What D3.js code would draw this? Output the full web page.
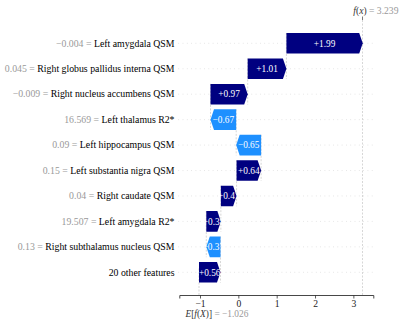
<!DOCTYPE html>
<html lang="en">
<head>
  <meta charset="UTF-8">
  <title>Waterfall</title>
  <script src='https://d3js.org/d3.v7.min.js'></script>
  <style>
    body { margin: 0; background: #fff; }
  </style>
</head>
<body>
</body>
<script>
  const width = 400, height = 325;

  // data, top row first
  const features = [
    'Left amygdala QSM', 'Right globus pallidus interna QSM', 'Right nucleus accumbens QSM',
    'Left thalamus R2*', 'Left hippocampus QSM', 'Left substantia nigra QSM',
    'Right caudate QSM', 'Left amygdala R2*', 'Right subthalamus nucleus QSM', '20 other features'
  ];
  const featureValues = ['\u22120.004', '0.045', '\u22120.009', '16.569', '0.09', '0.15', '0.04', '19.507', '0.13', null];
  const shapValues = [1.99, 1.01, 0.97, -0.67, -0.65, 0.64, 0.41, 0.38, -0.37, 0.56];
  const baseValue = -1.026;
  const fxValue = 3.239;
  const xTicks = [-1, 0, 1, 2, 3];
  const xDomain = [-1.54, 3.52];

  const posColor = '#000080', negColor = '#1e90ff';
  const serif = "'Liberation Serif', 'DejaVu Serif', serif";
  const fmt = v => (v < 0 ? '\u2212' : '') + Math.abs(v);
  const fmtBar = v => (v < 0 ? '\u2212' : '+') + Math.abs(v).toFixed(2);

  const svg = d3.select('body').append('svg')
    .attr('width', width).attr('height', height)
    .attr('font-family', serif);

  const x = d3.scaleLinear().domain(xDomain).range([179.3, 373.3]);
  const y = d3.scalePoint().domain(d3.range(features.length)).range([43.3, 272.3]);
  const step = y.step();
  const barH = step * 0.81;
  const axisY = 295, topY = 20;

  // cumulative starts (bottom row first)
  const bars = [];
  let cur = baseValue;
  for (let i = features.length - 1; i >= 0; i--) {
    bars[i] = {i: i, start: cur, end: cur + shapValues[i], v: shapValues[i]};
    cur += shapValues[i];
  }

  // horizontal dotted grid
  svg.append('g').selectAll('line').data(bars).join('line')
    .attr('x1', x.range()[0] - 1).attr('x2', x.range()[1])
    .attr('y1', d => y(d.i)).attr('y2', d => y(d.i))
    .attr('stroke', '#cccccc').attr('stroke-width', 0.6).attr('stroke-dasharray', '0.8,3.5');

  // connectors
  svg.append('g').selectAll('line').data(bars.slice(0, -1)).join('line')
    .attr('x1', d => x(d.start)).attr('x2', d => x(d.start))
    .attr('y1', d => y(d.i) - barH / 2).attr('y2', d => y(d.i + 1) + barH / 2)
    .attr('stroke', '#bbbbbb').attr('stroke-width', 0.6).attr('stroke-dasharray', '2,1.5');

  // base & f(x) lines
  svg.append('line')
    .attr('x1', x(baseValue)).attr('x2', x(baseValue))
    .attr('y1', axisY).attr('y2', axisY - (axisY - topY) / features.length)
    .attr('stroke', '#bbbbbb').attr('stroke-width', 0.6).attr('stroke-dasharray', '2,1.5');
  svg.append('line')
    .attr('x1', x(fxValue)).attr('x2', x(fxValue))
    .attr('y1', axisY).attr('y2', topY)
    .attr('stroke', '#bbbbbb').attr('stroke-width', 0.6).attr('stroke-dasharray', '2,1.5');
  svg.append('line')
    .attr('x1', x(fxValue)).attr('x2', x(fxValue))
    .attr('y1', topY).attr('y2', topY - 3.5)
    .attr('stroke', '#555').attr('stroke-width', 0.8);

  // arrows
  function arrow(d) {
    const x0 = x(d.start), x1 = x(d.end);
    const yc = y(d.i), yt = yc - barH / 2, yb = yc + barH / 2;
    const dir = x1 > x0 ? 1 : -1;
    const hl = Math.min(3.5, Math.abs(x1 - x0));
    const xh = x1 - dir * hl;
    return `M${x0},${yt}L${xh},${yt}L${x1},${yc}L${xh},${yb}L${x0},${yb}Z`;
  }
  svg.append('g').selectAll('path').data(bars).join('path')
    .attr('d', arrow)
    .attr('fill', d => d.v > 0 ? posColor : negColor);

  svg.append('g').selectAll('text').data(bars).join('text')
    .attr('x', d => (x(d.start) + x(d.end)) / 2)
    .attr('y', d => y(d.i) + 3.2)
    .attr('text-anchor', 'middle')
    .attr('font-size', 9.3)
    .attr('fill', '#fff')
    .text(d => fmtBar(d.v));

  // feature labels
  const lbl = svg.append('g').selectAll('text').data(bars).join('text')
    .attr('x', 174.5)
    .attr('y', d => y(d.i) + 3.3)
    .attr('text-anchor', 'end')
    .attr('font-size', 9.8);
  lbl.append('tspan').attr('fill', '#999999')
    .text(d => featureValues[d.i] === null ? '' : featureValues[d.i] + ' = ');
  lbl.append('tspan').attr('fill', '#000')
    .text(d => features[d.i]);

  // x axis
  const axis = svg.append('g').attr('transform', `translate(0,${axisY})`)
    .call(d3.axisBottom(x).tickValues(xTicks).tickSize(3.5).tickPadding(1.5).tickFormat(fmt));
  axis.attr('font-family', serif);
  axis.select('.domain').attr('stroke', '#333').attr('stroke-width', 0.9);
  axis.selectAll('.tick line').attr('stroke', '#333').attr('stroke-width', 0.8);
  axis.selectAll('.tick text').attr('font-size', 9.6).attr('fill', '#222');

  // bottom label
  const eLab = svg.append('text').attr('x', 185.5).attr('y', 316.5).attr('font-size', 9.4).attr('fill', '#333');
  [['E', 1], ['[', 0], ['f', 1], ['(', 0], ['X', 1], [')]', 0]].forEach(p => {
    eLab.append('tspan').attr('font-style', p[1] ? 'italic' : 'normal').text(p[0]);
  });
  eLab.append('tspan').attr('fill', '#999999').text(' = ' + fmt(baseValue));

  // top label
  const fLab = svg.append('text').attr('x', 353.3).attr('y', 14).attr('font-size', 9.6).attr('fill', '#333');
  [['f', 1], ['(', 0], ['x', 1], [')', 0]].forEach(p => {
    fLab.append('tspan').attr('font-style', p[1] ? 'italic' : 'normal').text(p[0]);
  });
  fLab.append('tspan').attr('fill', '#999999').text(' = ' + fmt(fxValue));
</script>
</html>
